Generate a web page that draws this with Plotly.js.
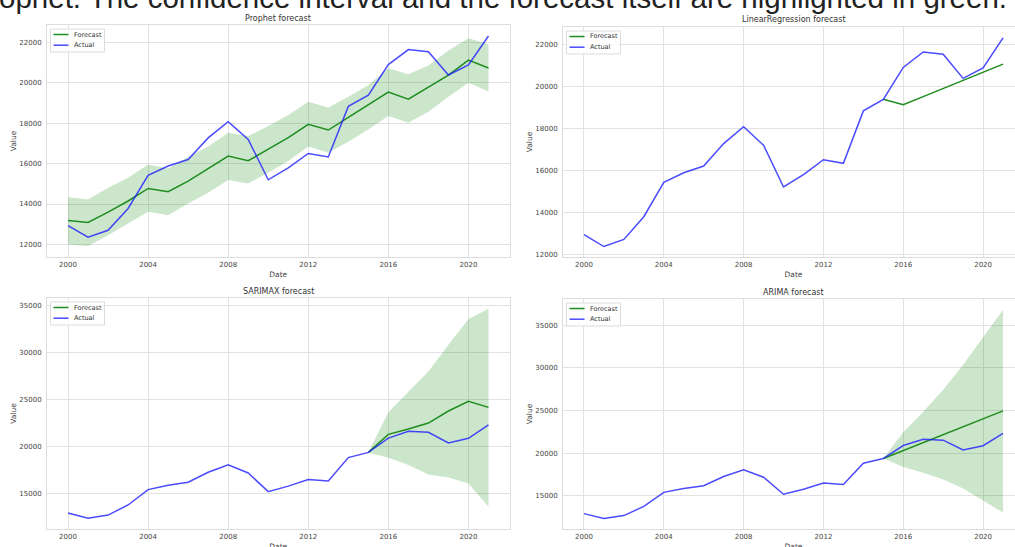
<!DOCTYPE html>
<html>
<head>
<meta charset="utf-8">
<script src="https://cdn.plot.ly/plotly-3.0.1.min.js"></script>
<style>
  html, body { margin: 0; padding: 0; overflow: hidden; background: #ffffff; }
  #chart { width: 1024px; height: 560px; }
</style>
</head>
<body>
<div id="chart"></div>
<script>
// Yearly series, 2000-2021
const years = [2000, 2001, 2002, 2003, 2004, 2005, 2006, 2007, 2008, 2009, 2010,
               2011, 2012, 2013, 2014, 2015, 2016, 2017, 2018, 2019, 2020, 2021];
const actual = [12930, 12360, 12700, 13780, 15420, 15880, 16200, 17270, 18070, 17190, 15200,
                15790, 16500, 16330, 18830, 19380, 20900, 21640, 21530, 20380, 20880, 22310];

// Prophet: in-sample + forecast with its interval
const prophetForecast = [13190, 13090, 13600, 14150, 14770, 14610, 15130, 15750, 16370, 16140, 16690,
                         17280, 17940, 17660, 18290, 18900, 19540, 19190, 19770, 20380, 21120, 20730];
const prophetUpper = [14330, 14230, 14800, 15300, 15960, 15760, 16340, 16840, 17530, 17360, 17860,
                      18400, 19060, 18780, 19310, 19890, 20710, 20420, 20850, 21590, 22200, 21900];
const prophetLower = [12000, 11920, 12460, 13040, 13620, 13450, 14030, 14560, 15190, 15020, 15550,
                      16130, 16840, 16540, 17080, 17690, 18350, 18020, 18570, 19310, 20000, 19560];

// Forecast horizon for the other models
const forecastYears = [2015, 2016, 2017, 2018, 2019, 2020, 2021];
const lrForecast = [19380, 19120, 19510, 19890, 20280, 20670, 21060];
const sarimaxForecast = [19380, 21300, 21870, 22510, 23790, 24820, 24180];
const sarimaxUpper = [19380, 23650, 25850, 27990, 30840, 33580, 34680];
const sarimaxLower = [19380, 18810, 18030, 17030, 16710, 16070, 13580];
const arimaForecast = [19380, 20320, 21250, 22180, 23100, 24030, 24960];
const arimaUpper = [19380, 22450, 24840, 27430, 30340, 33570, 36780];
const arimaLower = [19380, 18400, 17700, 16910, 15860, 14490, 13050];

const panelTitles = ['Prophet forecast', 'LinearRegression forecast', 'SARIMAX forecast', 'ARIMA forecast'];
const legendNames = ['Forecast', 'Actual'];
const headline = 'ophet. The confidence interval and the forecast itself are highlighted in green.';

const W = 1024, H = 560;
const px = v => v / W;
const py = v => 1 - v / H;

const GREEN = '#1e8c1e';
const BLUE = 'rgba(30,30,255,0.8)';
const BAND = 'rgba(0,128,0,0.2)';
const TICK_FONT = { family: 'DejaVu Sans', size: 7, color: '#444444' };
const LABEL_FONT = { family: 'DejaVu Sans', size: 7.5, color: '#444444' };

function band(x, upper, lower, n) {
  const xa = 'x' + (n === 1 ? '' : n), ya = 'y' + (n === 1 ? '' : n);
  return [
    { x: x, y: upper, xaxis: xa, yaxis: ya, type: 'scatter', mode: 'lines',
      line: { width: 0, color: BAND }, showlegend: false, hoverinfo: 'skip' },
    { x: x, y: lower, xaxis: xa, yaxis: ya, type: 'scatter', mode: 'lines',
      line: { width: 0, color: BAND }, fill: 'tonexty', fillcolor: BAND,
      showlegend: false, hoverinfo: 'skip' }
  ];
}
function line(x, y, n, name, color) {
  return { x: x, y: y, xaxis: 'x' + (n === 1 ? '' : n), yaxis: 'y' + (n === 1 ? '' : n),
           type: 'scatter', mode: 'lines', name: name, showlegend: false,
           line: { color: color, width: 1.5 } };
}

const traces = [
  ...band(years, prophetUpper, prophetLower, 1),
  line(years, prophetForecast, 1, 'Forecast', GREEN),
  line(years, actual, 1, 'Actual', BLUE),

  line(forecastYears, lrForecast, 2, 'Forecast', GREEN),
  line(years, actual, 2, 'Actual', BLUE),

  ...band(forecastYears, sarimaxUpper, sarimaxLower, 3),
  line(forecastYears, sarimaxForecast, 3, 'Forecast', GREEN),
  line(years, actual, 3, 'Actual', BLUE),

  ...band(forecastYears, arimaUpper, arimaLower, 4),
  line(forecastYears, arimaForecast, 4, 'Forecast', GREEN),
  line(years, actual, 4, 'Actual', BLUE)
];

// Panel boxes in pixels: [left, right, top, bottom]
const boxes = [
  [47, 509.5, 25, 257],
  [563, 1024, 27, 257],
  [47, 509.5, 298, 529],
  [563, 1024, 299, 529]
];
const yRanges = [[11380, 22855], [11860, 22830], [11220, 35830], [11130, 38050]];
const yTicks = [
  [12000, 14000, 16000, 18000, 20000, 22000],
  [12000, 14000, 16000, 18000, 20000, 22000],
  [15000, 20000, 25000, 30000, 35000],
  [15000, 20000, 25000, 30000, 35000]
];
const xTicks = [2000, 2004, 2008, 2012, 2016, 2020];

const layout = {
  width: W, height: H,
  margin: { l: 0, r: 0, t: 0, b: 0, pad: 0 },
  paper_bgcolor: '#ffffff', plot_bgcolor: '#ffffff',
  showlegend: false,
  annotations: [],
  shapes: [],
  hovermode: false
};

boxes.forEach((b, i) => {
  const n = i + 1, s = n === 1 ? '' : String(n);
  layout['xaxis' + s] = {
    domain: [px(b[0]), px(b[1])], anchor: 'y' + s,
    range: [1998.95, 2022.05], tickvals: xTicks, ticktext: xTicks.map(String),
    tickfont: TICK_FONT, ticks: '', ticklabelstandoff: 1,
    showgrid: true, gridcolor: '#e2e2e2', gridwidth: 1, zeroline: false,
    showline: true, mirror: true, linecolor: '#dddddd', linewidth: 1,
    title: { text: 'Date', font: LABEL_FONT, standoff: 3 }
  };
  layout['yaxis' + s] = {
    domain: [py(b[3]), py(b[2])], anchor: 'x' + s,
    range: yRanges[i], tickvals: yTicks[i], ticktext: yTicks[i].map(String),
    tickfont: TICK_FONT, ticks: '', ticklabelstandoff: 3,
    showgrid: true, gridcolor: '#e2e2e2', gridwidth: 1, zeroline: false,
    showline: true, mirror: true, linecolor: '#dddddd', linewidth: 1,
    title: { text: 'Value', font: LABEL_FONT, standoff: 1 }
  };

  // panel title
  layout.annotations.push({
    text: panelTitles[i], xref: 'paper', yref: 'paper',
    x: px((b[0] + b[1]) / 2), y: py(b[2] - 7), xanchor: 'center', yanchor: 'middle',
    showarrow: false, font: { family: 'DejaVu Sans', size: 8, color: '#333333' }
  });

  // legend box in the upper-left corner of each panel
  const lx = b[0] + 3.5, ly = b[2] + 4;
  layout.shapes.push({
    type: 'rect', xref: 'paper', yref: 'paper', layer: 'above',
    x0: px(lx), x1: px(lx + 54), y0: py(ly), y1: py(ly + 23),
    fillcolor: 'rgba(255,255,255,0.85)', line: { color: '#dcdcdc', width: 1 }
  });
  [GREEN, BLUE].forEach((c, k) => {
    const yy = ly + 5.5 + k * 10.7;
    layout.shapes.push({
      type: 'line', xref: 'paper', yref: 'paper', layer: 'above',
      x0: px(lx + 3), x1: px(lx + 18), y0: py(yy), y1: py(yy),
      line: { color: c, width: 1.5 }
    });
    layout.annotations.push({
      text: legendNames[k], xref: 'paper', yref: 'paper',
      x: px(lx + 21.5), y: py(yy), xanchor: 'left', yanchor: 'middle',
      showarrow: false, font: { family: 'DejaVu Sans', size: 6.5, color: '#333333' }
    });
  });
});

layout.annotations.push({
  text: headline, xref: 'paper', yref: 'paper',
  x: px(-3), y: py(16.5), xanchor: 'left', yanchor: 'bottom',
  showarrow: false, font: { family: 'Liberation Sans', size: 29.5, color: '#222222' }
});

Plotly.newPlot('chart', traces, layout, { displayModeBar: false, staticPlot: true });
</script>
</body>
</html>
